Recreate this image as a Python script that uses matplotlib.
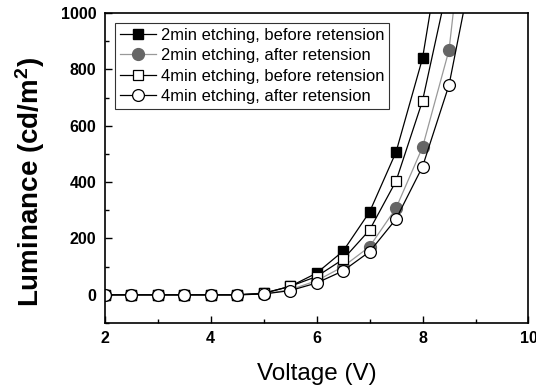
import numpy as np
import matplotlib
matplotlib.use('Agg')
import matplotlib.pyplot as plt
from matplotlib.ticker import MultipleLocator

plt.rcParams['font.family'] = ['Liberation Sans', 'DejaVu Sans']
plt.rcParams['mathtext.fontset'] = 'custom'
plt.rcParams['mathtext.bf'] = 'Liberation Sans:bold'
plt.rcParams['mathtext.rm'] = 'Liberation Sans'

# voltage steps (last point lies above the visible range)
voltage = [2, 2.5, 3, 3.5, 4, 4.5, 5, 5.5, 6, 6.5, 7, 7.5, 8, 8.5, 9]

lum_2min_before = [0, 0, 0, 0, 0, 0, 6, 30, 77, 155, 294, 507, 840, 1410, np.nan]
lum_2min_after = [0, 0, 0, 0, 0, 0, 3, 18, 50, 100, 171, 308, 524, 869, 1700]
lum_4min_before = [0, 0, 0, 0, 0, 0, 5, 30, 65, 126, 230, 404, 689, 1120, np.nan]
lum_4min_after = [0, 0, 0, 0, 0, 0, 3, 15, 42, 85, 153, 269, 455, 745, 1220]

labels = ['2min etching, before retension',
          '2min etching, after retension',
          '4min etching, before retension',
          '4min etching, after retension']

fig = plt.figure(figsize=(5.36, 3.85), dpi=100)
ax = fig.add_axes([0.1953, 0.161, 0.7907, 0.805])

ax.plot(voltage, lum_2min_before, '-s', color='black', lw=0.9,
        mfc='black', mec='black', ms=7.5, label=labels[0])
ax.plot(voltage, lum_2min_after, '-o', color='#999999', lw=0.9,
        mfc='#666666', mec='#666666', ms=8.5, label=labels[1])
ax.plot(voltage, lum_4min_before, '-s', color='black', lw=0.9,
        mfc='white', mec='black', mew=0.9, ms=7.5, label=labels[2])
ax.plot(voltage, lum_4min_after, '-o', color='black', lw=0.9,
        mfc='white', mec='black', mew=0.9, ms=8.5, label=labels[3])

ax.set_xlim(2, 10)
ax.set_ylim(-100, 1000)
ax.xaxis.set_major_locator(MultipleLocator(2))
ax.xaxis.set_minor_locator(MultipleLocator(1))
ax.yaxis.set_major_locator(MultipleLocator(200))
ax.yaxis.set_minor_locator(MultipleLocator(100))
ax.tick_params(which='both', direction='in', top=False, right=False, width=1)
ax.tick_params(which='major', length=5, labelsize=11.5, pad=6)
ax.tick_params(which='minor', length=3)
for lbl in ax.get_xticklabels() + ax.get_yticklabels():
    lbl.set_fontweight('bold')
for sp in ax.spines.values():
    sp.set_linewidth(1.2)

ax.set_xlabel('Voltage (V)', fontsize=17.5, labelpad=12)
ax.set_ylabel(r'Luminance (cd/m$\mathbf{^2}$)', fontsize=20, fontweight='bold')
ax.yaxis.set_label_coords(-0.135, 0.455)

leg = ax.legend(loc='upper left', fontsize=11.9, frameon=True, fancybox=False,
                edgecolor='black', borderpad=0.3, labelspacing=0.32,
                handlelength=2.2, handletextpad=0.3, borderaxespad=0.6)
leg.get_frame().set_linewidth(0.8)

fig.savefig('out.png', dpi=100)
